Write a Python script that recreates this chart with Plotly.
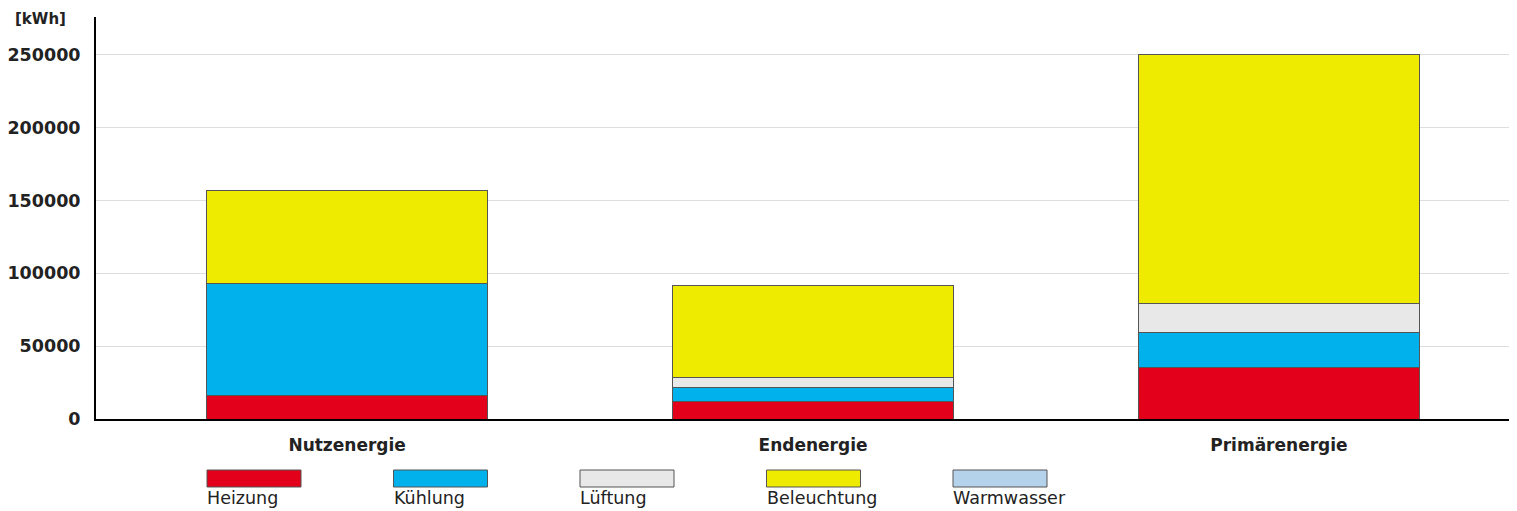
import plotly.graph_objects as go

categories = ["Nutzenergie", "Endenergie", "Primärenergie"]
series_names = ["Heizung", "Kühlung", "Lüftung", "Beleuchtung", "Warmwasser"]
heizung = [16000, 12300, 35600]
kuehlung = [76700, 9600, 24000]
lueftung = [0, 6900, 20000]
beleuchtung = [64500, 63000, 170500]
warmwasser = [0, 0, 0]
colors = ["#e2001a", "#00b1eb", "#e8e8e8", "#eeea00", "#b4d2ea"]
y_ticks = [0, 50000, 100000, 150000, 200000, 250000]

values = [heizung, kuehlung, lueftung, beleuchtung, warmwasser]

# page body has an 8px margin; size the figure so it ends at the window edge
OFF = 8
W, H = 1517 - OFF, 511 - OFF
ML, MR, MT, MB = 96 - OFF, 0, 17 - OFF, 92
plot_h = H - MT - MB
plot_w = W - ML - MR

fig = go.Figure()
for name, vals, col in zip(series_names, values, colors):
    fig.add_trace(go.Bar(
        x=categories, y=vals, name=name,
        marker=dict(color=col, line=dict(color="#555555", width=1)),
        width=0.603, showlegend=False,
    ))

def py2paper(py):
    # py: pixel in reference window coordinates
    return (H - MB - (py - OFF)) / plot_h

def px2paper(px):
    return (px - OFF - ML) / plot_w

shapes = []
annotations = []
for i, (name, col) in enumerate(zip(series_names, colors)):
    x0 = 207 + i * 186.5
    shapes.append(dict(type="rect", xref="paper", yref="paper",
                       x0=px2paper(x0), x1=px2paper(x0 + 94),
                       y0=py2paper(487), y1=py2paper(470),
                       fillcolor=col, line=dict(color="#555555", width=1)))
    annotations.append(dict(xref="paper", yref="paper",
                            x=px2paper(x0 - 2), y=py2paper(498),
                            xanchor="left", yanchor="middle",
                            text=name, showarrow=False,
                            font=dict(family="DejaVu Sans", size=17.5, color="#222222")))

annotations.append(dict(xref="paper", yref="paper", x=px2paper(13), y=py2paper(19),
                        xanchor="left", yanchor="middle", text="<b>[kWh]</b>",
                        showarrow=False,
                        font=dict(family="DejaVu Sans", size=15, color="#222222")))

fig.update_layout(
    barmode="stack",
    width=W, height=H,
    margin=dict(l=ML, r=MR, t=MT, b=MB, pad=0),
    paper_bgcolor="white", plot_bgcolor="white",
    shapes=shapes, annotations=annotations,
    xaxis=dict(
        range=[-0.539, 2.511],
        showgrid=False, zeroline=False,
        showline=True, linecolor="black", linewidth=1.5,
        ticks="", ticklabelstandoff=10,
        tickfont=dict(family="DejaVu Sans", size=17, color="#222222", weight="bold"),
    ),
    yaxis=dict(
        range=[0, 276000],
        tickvals=y_ticks, ticktext=[str(v) for v in y_ticks],
        showgrid=True, gridcolor="#dedede", gridwidth=1,
        zeroline=False,
        showline=True, linecolor="black", linewidth=2,
        ticks="", ticklabelstandoff=10,
        tickfont=dict(family="DejaVu Sans", size=17.5, color="#222222", weight="bold"),
    ),
)

fig.write_html("out.html")
